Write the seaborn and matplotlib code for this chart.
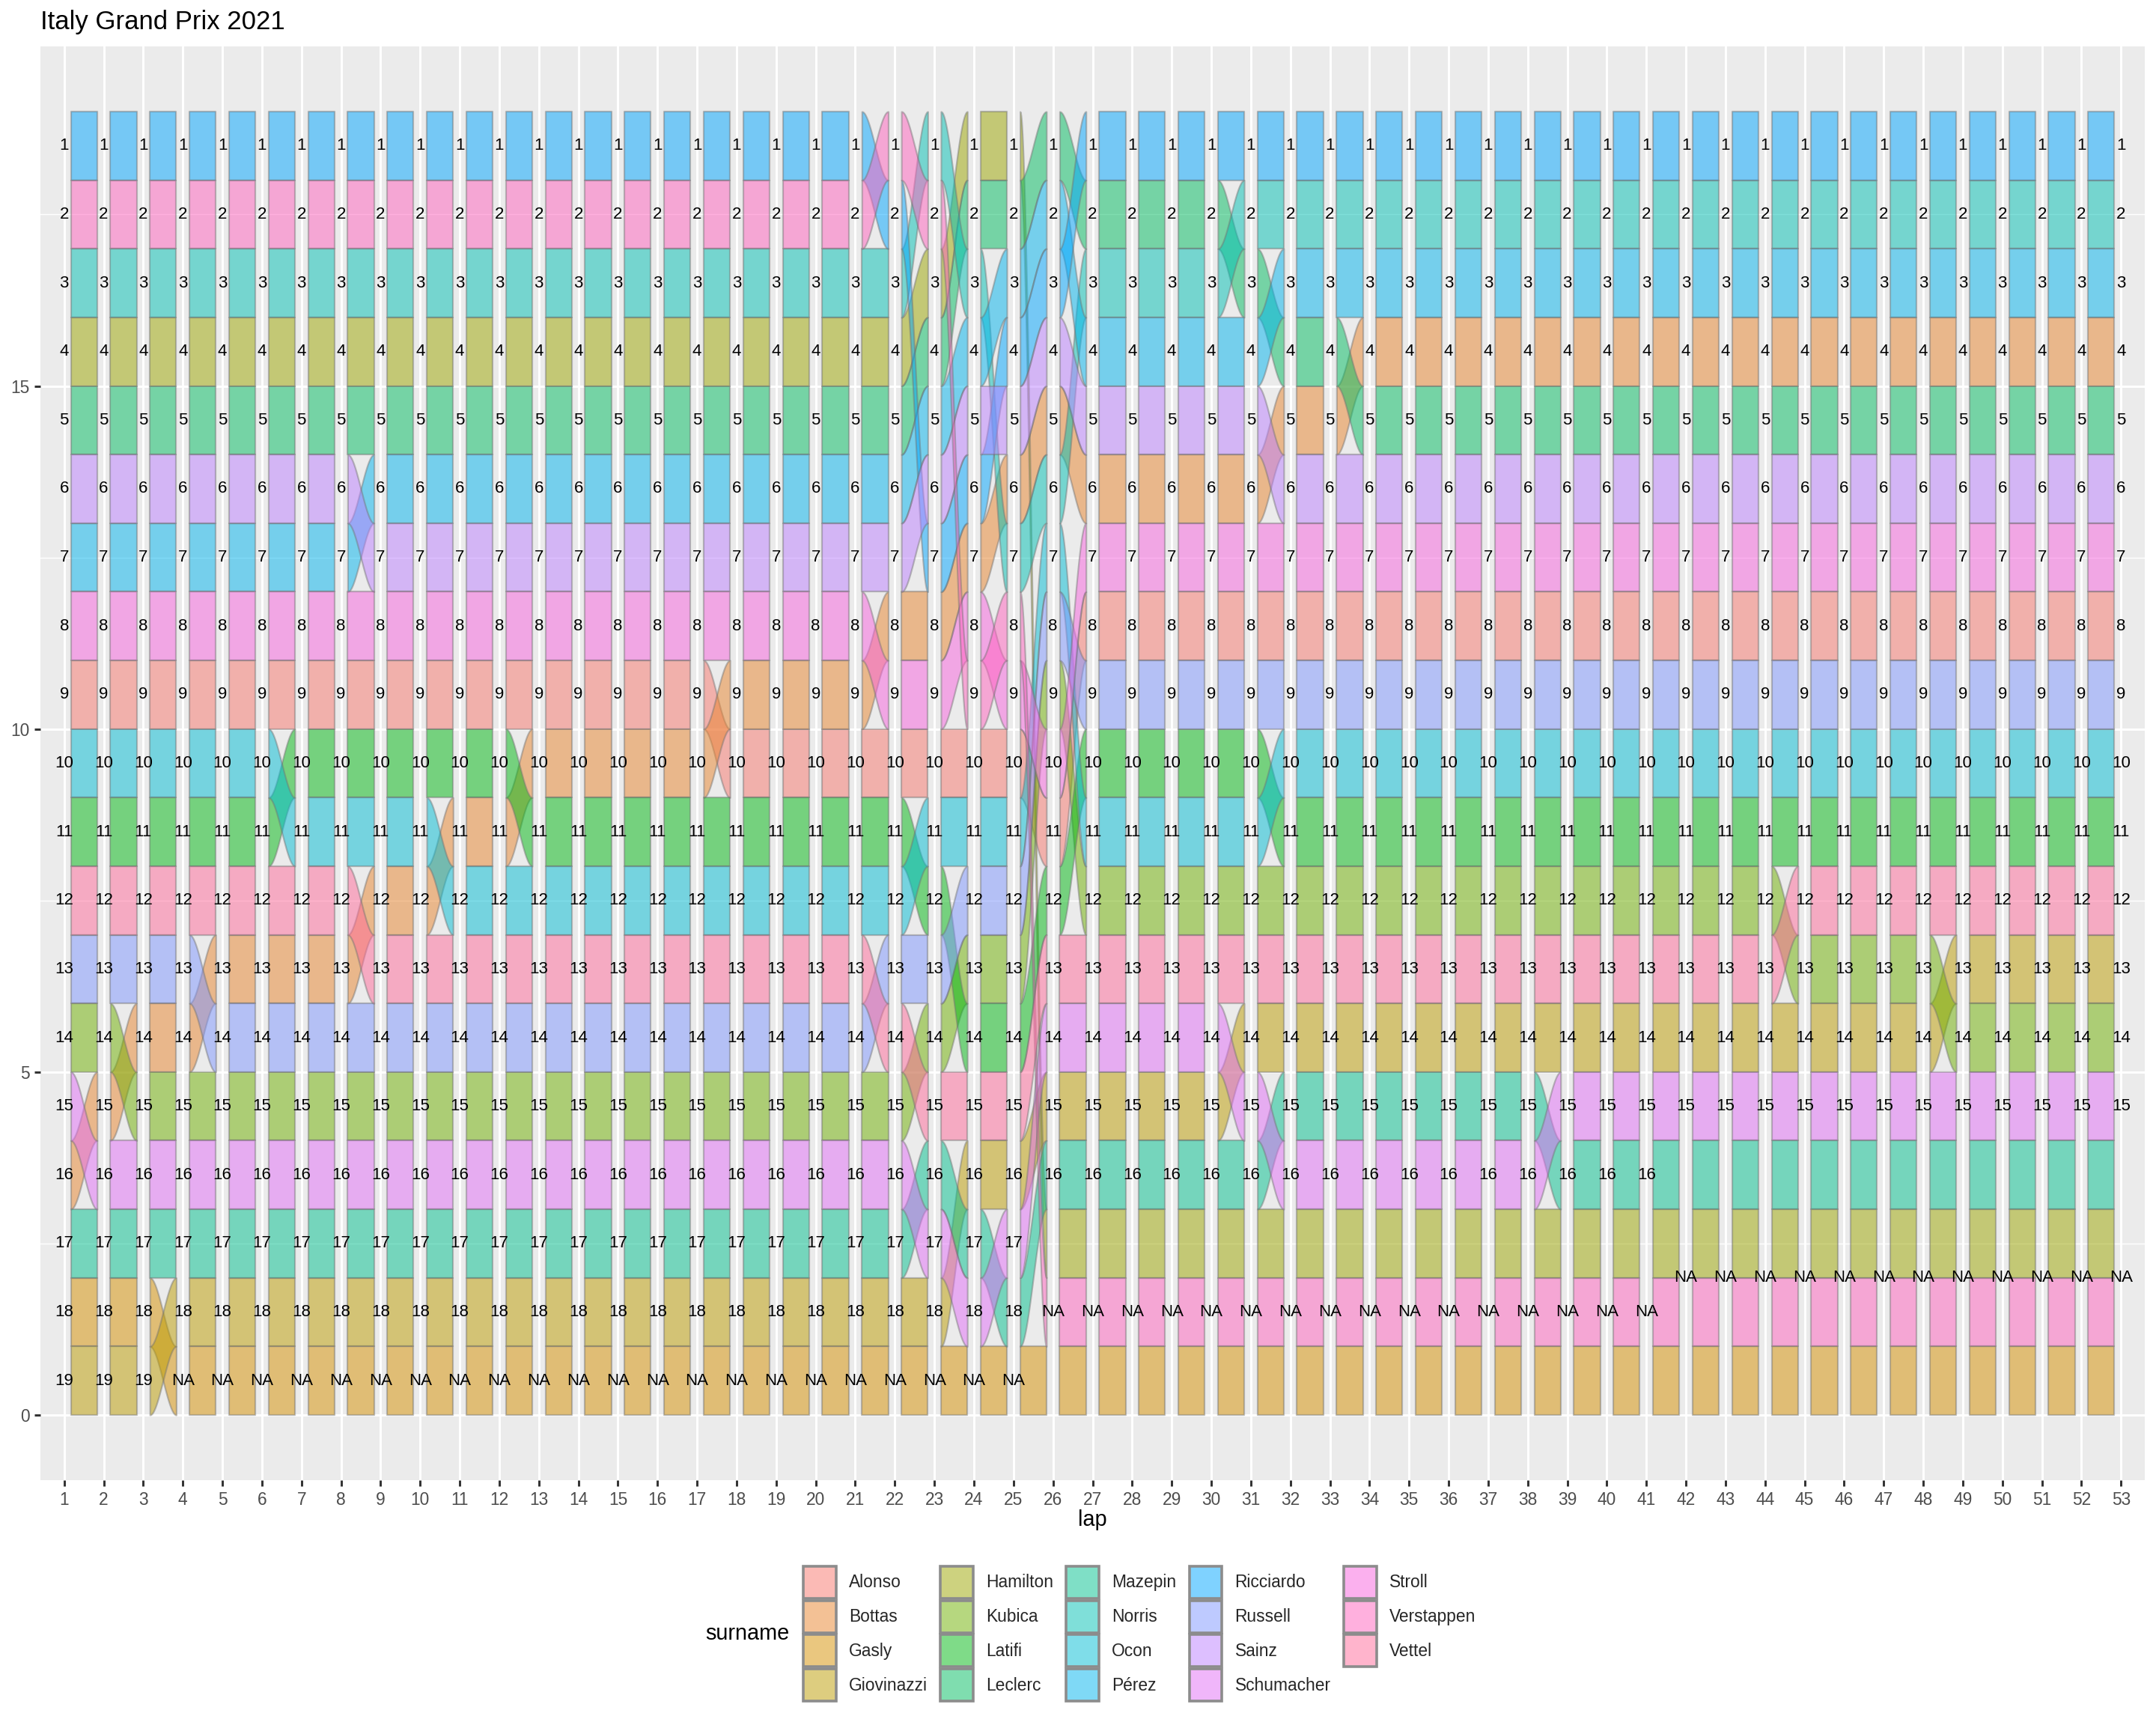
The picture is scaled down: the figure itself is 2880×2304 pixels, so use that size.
import numpy as np
import matplotlib
matplotlib.use("Agg")
import matplotlib.pyplot as plt
import seaborn as sns
from matplotlib.patches import Patch

N = None
laps = list(range(1, 54))
drivers = ["Alonso", "Bottas", "Gasly", "Giovinazzi", "Hamilton", "Kubica",
           "Latifi", "Leclerc", "Mazepin", "Norris", "Ocon", "Pérez",
           "Ricciardo", "Russell", "Sainz", "Schumacher", "Stroll",
           "Verstappen", "Vettel"]

# position per lap (1..53), None = NA (retired)
alonso = [9, 9, 9, 9, 9, 9, 9, 9, 9, 9,
          9, 9, 9, 9, 9, 9, 9, 10, 10, 10,
          10, 10, 10, 10, 10, 11, 8, 8, 8, 8,
          8, 8, 8, 8, 8, 8, 8, 8, 8, 8,
          8, 8, 8, 8, 8, 8, 8, 8, 8, 8,
          8, 8, 8]
bottas = [16, 15, 14, 14, 13, 13, 13, 13, 12, 12,
          11, 11, 10, 10, 10, 10, 10, 9, 9, 9,
          9, 8, 8, 7, 6, 5, 6, 6, 6, 6,
          6, 5, 5, 4, 4, 4, 4, 4, 4, 4,
          4, 4, 4, 4, 4, 4, 4, 4, 4, 4,
          4, 4, 4]
gasly = [18, 18, 18, N, N, N, N, N, N, N,
         N, N, N, N, N, N, N, N, N, N,
         N, N, N, N, N, N, N, N, N, N,
         N, N, N, N, N, N, N, N, N, N,
         N, N, N, N, N, N, N, N, N, N,
         N, N, N]
giovinazzi = [19, 19, 19, 18, 18, 18, 18, 18, 18, 18,
              18, 18, 18, 18, 18, 18, 18, 18, 18, 18,
              18, 18, 18, 16, 16, 15, 15, 15, 15, 15,
              14, 14, 14, 14, 14, 14, 14, 14, 14, 14,
              14, 14, 14, 14, 14, 14, 14, 14, 13, 13,
              13, 13, 13]
hamilton = [4, 4, 4, 4, 4, 4, 4, 4, 4, 4,
            4, 4, 4, 4, 4, 4, 4, 4, 4, 4,
            4, 4, 3, 1, 1, N, N, N, N, N,
            N, N, N, N, N, N, N, N, N, N,
            N, N, N, N, N, N, N, N, N, N,
            N, N, N]
kubica = [14, 14, 15, 15, 15, 15, 15, 15, 15, 15,
          15, 15, 15, 15, 15, 15, 15, 15, 15, 15,
          15, 15, 14, 13, 13, 9, 12, 12, 12, 12,
          12, 12, 12, 12, 12, 12, 12, 12, 12, 12,
          12, 12, 12, 12, 13, 13, 13, 13, 14, 14,
          14, 14, 14]
latifi = [11, 11, 11, 11, 11, 11, 10, 10, 10, 10,
          10, 10, 11, 11, 11, 11, 11, 11, 11, 11,
          11, 11, 12, 14, 14, 12, 10, 10, 10, 10,
          10, 11, 11, 11, 11, 11, 11, 11, 11, 11,
          11, 11, 11, 11, 11, 11, 11, 11, 11, 11,
          11, 11, 11]
leclerc = [5, 5, 5, 5, 5, 5, 5, 5, 5, 5,
           5, 5, 5, 5, 5, 5, 5, 5, 5, 5,
           5, 5, 4, 2, 2, 1, 2, 2, 2, 2,
           3, 4, 4, 5, 5, 5, 5, 5, 5, 5,
           5, 5, 5, 5, 5, 5, 5, 5, 5, 5,
           5, 5, 5]
mazepin = [17, 17, 17, 17, 17, 17, 17, 17, 17, 17,
           17, 17, 17, 17, 17, 17, 17, 17, 17, 17,
           17, 17, 16, 17, 18, 16, 16, 16, 16, 16,
           16, 15, 15, 15, 15, 15, 15, 15, 16, 16,
           16, N, N, N, N, N, N, N, N, N,
           N, N, N]
norris = [3, 3, 3, 3, 3, 3, 3, 3, 3, 3,
          3, 3, 3, 3, 3, 3, 3, 3, 3, 3,
          3, 3, 1, 3, 7, 6, 3, 3, 3, 3,
          2, 2, 2, 2, 2, 2, 2, 2, 2, 2,
          2, 2, 2, 2, 2, 2, 2, 2, 2, 2,
          2, 2, 2]
ocon = [10, 10, 10, 10, 10, 10, 11, 11, 11, 11,
        12, 12, 12, 12, 12, 12, 12, 12, 12, 12,
        12, 12, 11, 11, 11, 7, 11, 11, 11, 11,
        11, 10, 10, 10, 10, 10, 10, 10, 10, 10,
        10, 10, 10, 10, 10, 10, 10, 10, 10, 10,
        10, 10, 10]
perez = [7, 7, 7, 7, 7, 7, 7, 7, 6, 6,
         6, 6, 6, 6, 6, 6, 6, 6, 6, 6,
         6, 6, 5, 4, 3, 2, 4, 4, 4, 4,
         4, 3, 3, 3, 3, 3, 3, 3, 3, 3,
         3, 3, 3, 3, 3, 3, 3, 3, 3, 3,
         3, 3, 3]
ricciardo = [1, 1, 1, 1, 1, 1, 1, 1, 1, 1,
             1, 1, 1, 1, 1, 1, 1, 1, 1, 1,
             1, 2, 7, 6, 4, 3, 1, 1, 1, 1,
             1, 1, 1, 1, 1, 1, 1, 1, 1, 1,
             1, 1, 1, 1, 1, 1, 1, 1, 1, 1,
             1, 1, 1]
russell = [13, 13, 13, 13, 14, 14, 14, 14, 14, 14,
           14, 14, 14, 14, 14, 14, 14, 14, 14, 14,
           14, 13, 13, 12, 12, 8, 9, 9, 9, 9,
           9, 9, 9, 9, 9, 9, 9, 9, 9, 9,
           9, 9, 9, 9, 9, 9, 9, 9, 9, 9,
           9, 9, 9]
sainz = [6, 6, 6, 6, 6, 6, 6, 6, 7, 7,
         7, 7, 7, 7, 7, 7, 7, 7, 7, 7,
         7, 7, 6, 5, 5, 4, 5, 5, 5, 5,
         5, 6, 6, 6, 6, 6, 6, 6, 6, 6,
         6, 6, 6, 6, 6, 6, 6, 6, 6, 6,
         6, 6, 6]
schumacher = [15, 16, 16, 16, 16, 16, 16, 16, 16, 16,
              16, 16, 16, 16, 16, 16, 16, 16, 16, 16,
              16, 16, 17, 18, 17, 14, 14, 14, 14, 14,
              15, 16, 16, 16, 16, 16, 16, 16, 15, 15,
              15, 15, 15, 15, 15, 15, 15, 15, 15, 15,
              15, 15, 15]
stroll = [8, 8, 8, 8, 8, 8, 8, 8, 8, 8,
          8, 8, 8, 8, 8, 8, 8, 8, 8, 8,
          8, 9, 9, 8, 9, 10, 7, 7, 7, 7,
          7, 7, 7, 7, 7, 7, 7, 7, 7, 7,
          7, 7, 7, 7, 7, 7, 7, 7, 7, 7,
          7, 7, 7]
verstappen = [2, 2, 2, 2, 2, 2, 2, 2, 2, 2,
              2, 2, 2, 2, 2, 2, 2, 2, 2, 2,
              2, 1, 2, 9, 8, N, N, N, N, N,
              N, N, N, N, N, N, N, N, N, N,
              N, N, N, N, N, N, N, N, N, N,
              N, N, N]
vettel = [12, 12, 12, 12, 12, 12, 12, 12, 13, 13,
          13, 13, 13, 13, 13, 13, 13, 13, 13, 13,
          13, 14, 15, 15, 15, 13, 13, 13, 13, 13,
          13, 13, 13, 13, 13, 13, 13, 13, 13, 13,
          13, 13, 13, 13, 12, 12, 12, 12, 12, 12,
          12, 12, 12]

positions = {
    "Alonso": alonso, "Bottas": bottas, "Gasly": gasly,
    "Giovinazzi": giovinazzi, "Hamilton": hamilton, "Kubica": kubica,
    "Latifi": latifi, "Leclerc": leclerc, "Mazepin": mazepin,
    "Norris": norris, "Ocon": ocon, "Pérez": perez,
    "Ricciardo": ricciardo, "Russell": russell, "Sainz": sainz,
    "Schumacher": schumacher, "Stroll": stroll,
    "Verstappen": verstappen, "Vettel": vettel,
}


def hcl_rgb(h, c=100.0, l=65.0):
    # ggplot2 hue_pal colours (polar Luv -> sRGB)
    hr = np.deg2rad(h)
    u, v = c * np.cos(hr), c * np.sin(hr)
    xn, yn, zn = 95.047, 100.0, 108.883
    un = 4 * xn / (xn + 15 * yn + 3 * zn)
    vn = 9 * yn / (xn + 15 * yn + 3 * zn)
    y = yn * ((l + 16) / 116) ** 3
    up = u / (13 * l) + un
    vp = v / (13 * l) + vn
    x = y * 9 * up / (4 * vp)
    z = y * (12 - 3 * up - 20 * vp) / (4 * vp)
    m = np.array([[3.240479, -1.537150, -0.498535],
                  [-0.969256, 1.875992, 0.041556],
                  [0.055648, -0.204043, 1.057311]])
    rgb = m @ (np.array([x, y, z]) / 100)
    rgb = np.clip(rgb, 0, None)
    rgb = np.where(rgb <= 0.0031308, 12.92 * rgb,
                   1.055 * rgb ** (1 / 2.4) - 0.055)
    return tuple(np.clip(rgb, 0, 1))


hues = (np.linspace(15, 375, len(drivers) + 1)[:-1]) % 360
palette = {d: hcl_rgb(h) for d, h in zip(drivers, hues)}
ALPHA = 0.5


def last_lap(d):
    p = positions[d]
    idx = [i for i, v in enumerate(p) if v is not None]
    return idx[-1], p[idx[-1]]


# vertical slot of every driver on every lap (0 = top)
slots = {d: [] for d in drivers}
na_counts = []
for i in range(len(laps)):
    running = sorted([d for d in drivers if positions[d][i] is not None],
                     key=lambda d: positions[d][i])
    out = [d for d in drivers if positions[d][i] is None]
    out = sorted(out, key=lambda d: (-last_lap(d)[0], last_lap(d)[1]))
    for j, d in enumerate(running + out):
        slots[d].append(j)
    na_counts.append((len(running), len(out)))

sns.set_theme(style="darkgrid", rc={
    "axes.facecolor": "#EBEBEB",
    "grid.color": "white",
    "axes.edgecolor": "#EBEBEB",
})
plt.rcParams["font.family"] = ["Liberation Sans", "DejaVu Sans"]

W, H = 2880, 2304
fig = plt.figure(figsize=(14.4, 11.52), dpi=200)
fig.patch.set_facecolor("white")
pl, pr, pt, pb = 54, 2865, 62, 1977
ax = fig.add_axes([pl / W, 1 - pb / H, (pr - pl) / W, (pb - pt) / H])
top_y = len(drivers)

ts = np.linspace(0, 1, 60)
ease = ts * ts * (3 - 2 * ts)
edge = (0.45, 0.45, 0.45, 0.45)
for k in range(len(laps) - 1):
    x0, x1 = laps[k] + 1 / 6, laps[k + 1] - 1 / 6
    xs = x0 + (x1 - x0) * ts
    for d in drivers:
        b0 = top_y - 1 - slots[d][k]
        b1 = top_y - 1 - slots[d][k + 1]
        bottom = b0 + (b1 - b0) * ease
        ax.fill_between(xs, bottom, bottom + 1,
                        facecolor=palette[d] + (ALPHA,),
                        edgecolor=edge, linewidth=0.8, zorder=2)

# stratum labels
for i, lap in enumerate(laps):
    n_run, n_out = na_counts[i]
    for d in drivers:
        p = positions[d][i]
        if p is not None:
            ax.text(lap, top_y - 0.5 - slots[d][i], str(p), ha="center",
                    va="center", fontsize=8.0, color="black", zorder=4)
    if n_out:
        yc = top_y - n_run - n_out / 2
        ax.text(lap, yc, "NA", ha="center", va="center", fontsize=8.0,
                color="black", zorder=4)

ax.set_xlim(0.4, 53.6)
ax.set_ylim(-0.95, 19.95)
ax.set_xticks(laps)
ax.set_xticklabels([str(l) for l in laps])
ax.set_yticks([0, 5, 10, 15])
ax.set_yticks([2.5, 7.5, 12.5, 17.5], minor=True)
ax.grid(which="major", color="white", linewidth=1.07)
ax.grid(which="minor", axis="y", color="white", linewidth=0.53)
ax.grid(which="minor", axis="x", visible=False)
ax.tick_params(which="major", length=2.75, width=1.07, color="#333333",
               labelsize=8.2, labelcolor="#4D4D4D", pad=2.5,
               bottom=True, left=True)
ax.tick_params(which="minor", length=0)
for s in ax.spines.values():
    s.set_visible(False)
ax.set_xlabel("")
ax.set_ylabel("")

fig.text(pl / W, 1 - 39 / H, "Italy Grand Prix 2021", fontsize=12.5,
         ha="left", va="baseline", color="black")
fig.text((pl + pr) / 2 / W, 1 - 2030 / H, "lap", fontsize=10.4,
         ha="center", va="center", color="black")

handles = [Patch(facecolor=palette[d] + (ALPHA,), edgecolor=(0.55, 0.55, 0.55),
                 linewidth=1.3, label=d) for d in drivers]
fig.legend(handles=handles, labels=drivers, ncol=5, loc="center left",
           bbox_to_anchor=(1073 / W, 1 - 2182 / H), frameon=False,
           fontsize=8.2, handlelength=1.93, handleheight=2.52,
           handletextpad=0.75, columnspacing=0.75, labelspacing=0.13,
           borderpad=0, borderaxespad=0)
fig.text(942 / W, 1 - 2182 / H, "surname", fontsize=10.4, ha="left",
         va="center", color="black")

fig.savefig("out.png", dpi=200, facecolor="white")
